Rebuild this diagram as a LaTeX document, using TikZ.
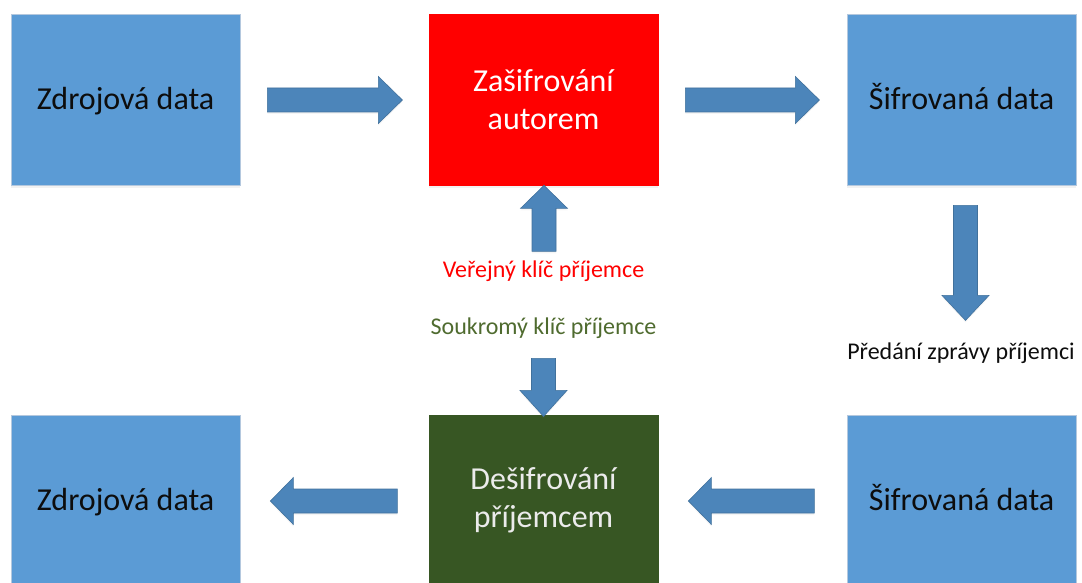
\documentclass[tikz,border=0pt]{standalone}
\usepackage{fontspec}
\setmainfont{Carlito}
\usetikzlibrary{shadows,calc}

\definecolor{boxblue}{HTML}{5B9BD5}
\definecolor{boxedge}{HTML}{B4C8DE}
\definecolor{arrowfill}{HTML}{4C85BA}
\definecolor{arrowline}{HTML}{41719C}
\definecolor{encred}{HTML}{FF0000}
\definecolor{decgreen}{HTML}{375623}
\definecolor{keygreen}{HTML}{4F6B2F}
\definecolor{textdark}{HTML}{0D0D0D}

\tikzset{
  databox/.style={rectangle, minimum width=229pt, minimum height=171pt,
    inner sep=0pt, draw=boxedge, line width=0.8pt, fill=boxblue,
    text=textdark, font=\fontsize{32}{38}\selectfont, align=center,
    drop shadow={opacity=0.10, shadow xshift=0pt, shadow yshift=-3pt}},
  % single-line boxes share one baseline, accents or not
  oneline/.style={databox, text height=26pt, text depth=6pt},
  redbox/.style={databox, fill=encred, draw=encred, text=white},
  greenbox/.style={databox, fill=decgreen, draw=decgreen, text=white!92!black},
  keylabel/.style={font=\fontsize{24}{28}\selectfont, inner sep=0pt},
  % block arrow: #1 = total length, #2 = head length; drawn along +x
  pics/barrow/.style 2 args={code={
    \filldraw[fill=arrowfill, draw=arrowline, line width=0.6pt,
      drop shadow={opacity=0.08, shadow xshift=0pt, shadow yshift=-2pt}]
      (0,-12) -- ({#1-#2},-12) -- ({#1-#2},-23.5) -- (#1,0)
      -- ({#1-#2},23.5) -- ({#1-#2},12) -- (0,12) -- cycle;
  }}
}

\begin{document}
\begin{tikzpicture}[x=1pt, y=-1pt]
  \useasboundingbox (0,0) rectangle (1082,583);

  % top row
  \node[oneline] (src1) at (125.5,99.5) {Zdrojová data};
  \node[redbox]  (enc)  at (543.5,99.5) {Zašifrování\\autorem};
  \node[oneline] (cip1) at (961.5,99.5) {Šifrovaná data};

  % bottom row
  \node[oneline]  (src2) at (125.5,500.5) {Zdrojová data};
  \node[greenbox] (dec)  at (543.5,500.5) {Dešifrování\\příjemcem};
  \node[oneline]  (cip2) at (961.5,500.5) {Šifrovaná data};

  % labels
  \node[keylabel, text=encred]   (pub)  at (543.5,271) {Veřejný klíč příjemce};
  \node[keylabel, text=keygreen] (priv) at (543.5,328) {Soukromý klíč příjemce};
  \node[keylabel, text=textdark] (send) at (961,353) {Předání zprávy příjemci};

  % arrow anchors
  \coordinate (a1) at ($(src1.east)+(27,0.5)$);
  \coordinate (a2) at ($(enc.east)+(27,0.5)$);
  \coordinate (a3) at ($(enc.south)+(0.5,66)$);
  \coordinate (a4) at ($(enc.south)+(0,173)$);
  \coordinate (a5) at ($(cip1.south)+(4,20)$);
  \coordinate (a6) at ($(src2.east)+(157,0.5)$);
  \coordinate (a7) at ($(dec.east)+(156,0.5)$);

  % block arrows
  \pic at (a1) {barrow={135}{24}};
  \pic at (a2) {barrow={134}{24}};
  \pic[rotate=90]  at (a3) {barrow={66}{23}};
  \pic[rotate=-90] at (a4) {barrow={58}{26}};
  \pic[rotate=-90] at (a5) {barrow={115}{25}};
  \pic[rotate=180] at (a6) {barrow={127}{23}};
  \pic[rotate=180] at (a7) {barrow={126}{23}};
\end{tikzpicture}
\end{document}
